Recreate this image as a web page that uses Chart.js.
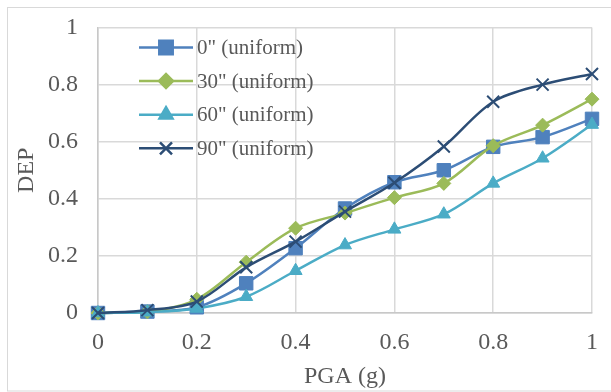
<!DOCTYPE html>
<html>
<head>
<meta charset="utf-8">
<script src="https://cdn.jsdelivr.net/npm/chart.js@4.4.0/dist/chart.umd.min.js"></script>
<style>
  html, body { margin: 0; padding: 0; background: #fff; overflow: hidden; }
  #wrap { width: 611px; height: 392px; position: relative; }
</style>
</head>
<body>
<div id="wrap"><canvas id="chart"></canvas></div>
<script>
// --- Data ---
const pga = [0, 0.1, 0.2, 0.3, 0.4, 0.5, 0.6, 0.7, 0.8, 0.9, 1];
const seriesNames = ['0" (uniform)', '30" (uniform)', '60" (uniform)', '90" (uniform)'];
const dep0 = [0, 0.005, 0.02, 0.104, 0.227, 0.366, 0.458, 0.5, 0.582, 0.616, 0.68];
const dep30 = [0, 0.004, 0.048, 0.178, 0.297, 0.35, 0.404, 0.454, 0.586, 0.658, 0.749];
const dep60 = [0, 0.003, 0.016, 0.057, 0.148, 0.238, 0.293, 0.346, 0.454, 0.542, 0.66];
const dep90 = [0, 0.01, 0.04, 0.16, 0.25, 0.355, 0.456, 0.583, 0.74, 0.80, 0.837];
const xTicks = [0, 0.2, 0.4, 0.6, 0.8, 1];
const yTicks = [0, 0.2, 0.4, 0.6, 0.8, 1];

const serif = "'Times New Roman', 'Liberation Serif', serif";
const textColor = '#595959';

function toPoints(ys) {
    return pga.map((x, i) => ({ x: x, y: ys[i] }));
}

function makeSeries(i, ys, color, style, radius, order) {
    return {
        label: seriesNames[i],
        data: toPoints(ys),
        borderColor: color,
        backgroundColor: color,
        pointBackgroundColor: color,
        pointBorderColor: color,
        borderWidth: 2.5,
        pointStyle: style,
        pointRadius: radius,
        pointBorderWidth: style === 'crossRot' ? 2 : 1,
        tension: 0.33,
        clip: false,
        order: order
    };
}

// --- Outer frame (right edge runs off the picture) ---
const framePlugin = {
    id: 'frame',
    beforeDraw(chart) {
        const ctx = chart.ctx;
        ctx.save();
        ctx.strokeStyle = '#d9d9d9';
        ctx.lineWidth = 1;
        ctx.strokeRect(7.5, 7.5, 620, 383.5);
        ctx.restore();
    }
};

// --- Legend drawn inside the plot area (top-left) ---
const insideLegend = {
    id: 'insideLegend',
    afterDraw(chart) {
        const ctx = chart.ctx;
        const x0 = 139, x1 = 193, mx = 166, tx = 197;
        ctx.save();
        chart.data.datasets.forEach((ds, i) => {
            const y = 47.5 + i * 33.6;
            ctx.strokeStyle = ds.borderColor;
            ctx.lineWidth = ds.borderWidth;
            ctx.beginPath();
            ctx.moveTo(x0, y);
            ctx.lineTo(x1, y);
            ctx.stroke();
            ctx.fillStyle = ds.backgroundColor;
            Chart.helpers.drawPoint(ctx, {
                pointStyle: ds.pointStyle,
                radius: ds.pointRadius,
                rotation: 0,
                borderWidth: ds.pointBorderWidth
            }, mx, y);
            ctx.fillStyle = textColor;
            ctx.font = '21px ' + serif;
            ctx.textBaseline = 'middle';
            ctx.textAlign = 'left';
            ctx.fillText(ds.label, tx, y + 1);
        });
        ctx.restore();
    }
};

const chart = new Chart(document.getElementById('chart'), {
    type: 'line',
    data: {
        datasets: [
            makeSeries(0, dep0, '#4F81BD', 'rect', 9.5, 4),
            makeSeries(1, dep30, '#9BBB59', 'rectRot', 7, 3),
            makeSeries(2, dep60, '#4BACC6', 'triangle', 7.5, 2),
            makeSeries(3, dep90, '#2C4D75', 'crossRot', 8.5, 1)
        ]
    },
    options: {
        responsive: true,
        maintainAspectRatio: false,
        animation: false,
        layout: { padding: { top: 27.5, right: 19, bottom: 0, left: 0 } },
        plugins: {
            legend: { display: false },
            tooltip: { enabled: false }
        },
        scales: {
            x: {
                type: 'linear',
                min: 0,
                max: 1,
                afterBuildTicks(scale) { scale.ticks = xTicks.map(v => ({ value: v })); },
                afterFit(scale) {
                    scale.height = 79;
                    scale.paddingLeft = 0;
                    scale.paddingRight = 0;
                },
                ticks: {
                    padding: 15,
                    color: textColor,
                    font: { family: serif, size: 24 },
                    callback: v => String(v)
                },
                grid: { color: '#d9d9d9', lineWidth: 1.5, drawTicks: false },
                border: { color: '#c8c8c8', width: 1.5 },
                title: {
                    display: true,
                    text: 'PGA (g)',
                    color: textColor,
                    font: { family: serif, size: 24 },
                    padding: { top: 0, bottom: 1 }
                }
            },
            y: {
                type: 'linear',
                min: 0,
                max: 1,
                afterBuildTicks(scale) { scale.ticks = yTicks.map(v => ({ value: v })); },
                afterFit(scale) {
                    scale.width = 98;
                    scale.paddingTop = 0;
                    scale.paddingBottom = 0;
                },
                ticks: {
                    padding: 20,
                    color: textColor,
                    font: { family: serif, size: 24 },
                    callback: v => String(v)
                },
                grid: { color: '#d9d9d9', lineWidth: 1.5, drawTicks: false },
                border: { color: '#c8c8c8', width: 1.5 },
                title: {
                    display: true,
                    text: 'DEP',
                    color: textColor,
                    font: { family: serif, size: 24 },
                    padding: { top: 12.6, bottom: 0 }
                }
            }
        }
    },
    plugins: [framePlugin, insideLegend]
});
</script>
</body>
</html>
